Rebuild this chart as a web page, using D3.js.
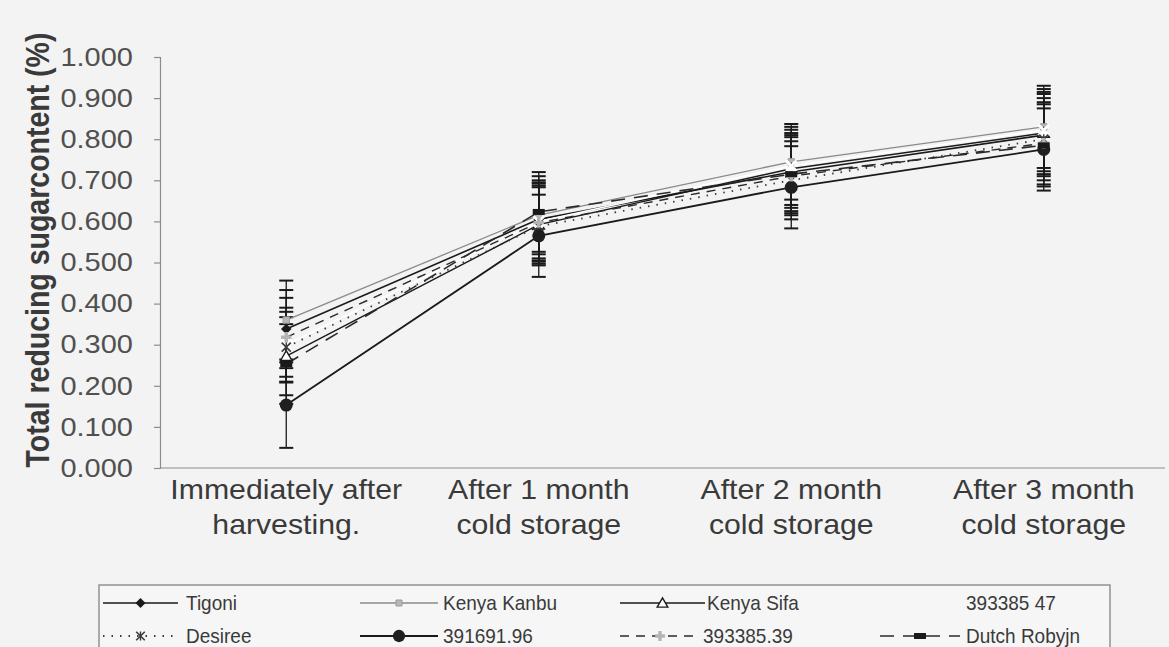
<!DOCTYPE html>
<html>
<head>
<meta charset="utf-8">
<script src="https://cdnjs.cloudflare.com/ajax/libs/d3/7.8.5/d3.min.js"></script>
<style>
  html, body { margin: 0; padding: 0; background: #f3f3f3; }
  svg { display: block; }
</style>
</head>
<body>
<svg id="chart" width="1169" height="647"></svg>
<script>
// Storage stages (x categories)
const stages = ["Immediately after|harvesting.", "After 1 month|cold storage", "After 2 month|cold storage", "After 3 month|cold storage"];
const yTicks = [0, 0.1, 0.2, 0.3, 0.4, 0.5, 0.6, 0.7, 0.8, 0.9, 1.0];

// Total reducing sugar content (%) per variety, with standard errors
const tigoni        = [0.338, 0.605, 0.720, 0.810];
const tigoniErr     = [0.095, 0.095, 0.095, 0.100];
const kenyaKanbu    = [0.360, 0.615, 0.745, 0.830];
const kenyaKanbuErr = [0.096, 0.095, 0.092, 0.100];
const kenyaSifa     = [0.272, 0.592, 0.728, 0.815];
const kenyaSifaErr  = [0.095, 0.095, 0.095, 0.100];
const v39338547     = [0.300, 0.600, 0.735, 0.822];
const v39338547Err  = [0.090, 0.095, 0.095, 0.100];
const desiree       = [0.294, 0.588, 0.700, 0.800];
const desireeErr    = [0.086, 0.095, 0.095, 0.100];
const v39169196     = [0.153, 0.565, 0.683, 0.775];
const v39169196Err  = [0.104, 0.100, 0.100, 0.100];
const v39338539     = [0.318, 0.597, 0.710, 0.790];
const v39338539Err  = [0.096, 0.095, 0.095, 0.100];
const dutchRobyjn   = [0.253, 0.623, 0.715, 0.785];
const dutchRobyjnErr= [0.097, 0.097, 0.095, 0.100];

const series = [
  { name: "Tigoni",       values: tigoni,      err: tigoniErr,      stroke: "#1a1a1a", width: 1.6, dash: null,      marker: "diamond",  fill: "#1a1a1a" },
  { name: "Kenya Kanbu",  values: kenyaKanbu,  err: kenyaKanbuErr,  stroke: "#8a8a8a", width: 1.3, dash: null,      marker: "kanbu",    fill: "#a0a0a0" },
  { name: "Kenya Sifa",   values: kenyaSifa,   err: kenyaSifaErr,   stroke: "#1a1a1a", width: 1.4, dash: null,      marker: "triangle", fill: "#ffffff" },
  { name: "393385 47",    values: v39338547,   err: v39338547Err,   stroke: "#ffffff", width: 1.6, dash: null,      marker: "xwhite",   fill: "#ffffff" },
  { name: "Desiree",      values: desiree,     err: desireeErr,     stroke: "#3a3a3a", width: 1.8, dash: "1.5,7",   marker: "asterisk", fill: "#3a3a3a" },
  { name: "391691.96",    values: v39169196,   err: v39169196Err,   stroke: "#1a1a1a", width: 1.8, dash: null,      marker: "circle",   fill: "#1a1a1a" },
  { name: "393385.39",    values: v39338539,   err: v39338539Err,   stroke: "#2a2a2a", width: 1.4, dash: "9,7",     marker: "plus",     fill: "#b0b0b0" },
  { name: "Dutch Robyjn", values: dutchRobyjn, err: dutchRobyjnErr, stroke: "#2a2a2a", width: 1.6, dash: "14,9",    marker: "rect",     fill: "#1a1a1a" }
];

const svg = d3.select("#chart");
const textSX = 1.16;            // glyphs in this chart are set slightly wide
const fontMain = "'Liberation Sans', Arial, Helvetica, sans-serif";

const x = d3.scalePoint().domain(d3.range(stages.length)).range([160, 1170]).padding(0.5);
const y = d3.scaleLinear().domain([0, 1]).range([468, 57]);

// horizontally scaled text helper
function label(parent, px, py, str, opt) {
  return parent.append("text")
    .attr("transform", `translate(${px},${py}) scale(${opt.sx || textSX},1)`)
    .attr("text-anchor", opt.anchor || "start")
    .attr("dominant-baseline", "central")
    .attr("font-family", fontMain)
    .attr("font-size", opt.size)
    .attr("font-weight", opt.weight || "normal")
    .attr("fill", opt.fill || "#4a4a4a")
    .text(str);
}

// Y axis
const yAxis = d3.axisLeft(y).tickValues(yTicks).tickSize(6).tickFormat("");
const yg = svg.append("g").attr("transform", "translate(160,0)").call(yAxis);
yg.select(".domain").attr("stroke", "#8c8c8c").attr("stroke-width", 1.2);
yg.selectAll(".tick line").attr("stroke", "#8c8c8c").attr("stroke-width", 1.2);
yTicks.forEach(t => label(svg, 133, y(t), d3.format(".3f")(t), { size: 25, anchor: "end", fill: "#505050" }));

// X axis
const xg = svg.append("g").attr("transform", "translate(0,468)")
  .call(d3.axisBottom(x).tickSize(0).tickFormat(""));
xg.select(".domain").attr("stroke", "#8c8c8c").attr("stroke-width", 1.2).attr("d", "M160,0H1165");
stages.forEach((s, i) => {
  const parts = s.split("|");
  label(svg, x(i), 489, parts[0], { size: 28, sx: 1.08, anchor: "middle", fill: "#3a3a3a" });
  label(svg, x(i), 524, parts[1], { size: 28, sx: 1.08, anchor: "middle", fill: "#3a3a3a" });
});

// Y axis title
svg.append("text")
  .attr("transform", "translate(38,250) rotate(-90) scale(1,1.16)")
  .attr("text-anchor", "middle")
  .attr("dominant-baseline", "central")
  .attr("font-family", fontMain)
  .attr("font-weight", "bold")
  .attr("font-size", 28.5)
  .attr("fill", "#3a3a3a")
  .text("Total reducing sugarcontent (%)");

// marker drawing
function drawMarker(g, type, cx, cy, s) {
  const k = s || 1;
  switch (type) {
    case "diamond":
      g.append("path").attr("d", d3.symbol(d3.symbolDiamond2, 70 * k)()).attr("transform", `translate(${cx},${cy})`)
        .attr("fill", "#1a1a1a"); break;
    case "kanbu":
      g.append("path").attr("d", d3.symbol(d3.symbolSquare, 40 * k)()).attr("transform", `translate(${cx},${cy})`)
        .attr("fill", "#b8b8b8").attr("stroke", "#9a9a9a").attr("stroke-width", 1); break;
    case "triangle":
      g.append("path").attr("d", d3.symbol(d3.symbolTriangle, 55 * k)()).attr("transform", `translate(${cx},${cy + 1})`)
        .attr("fill", "#ffffff").attr("stroke", "#1a1a1a").attr("stroke-width", 1.4); break;
    case "xwhite":
      g.append("path").attr("d", d3.symbol(d3.symbolX, 70 * k)()).attr("transform", `translate(${cx},${cy})`)
        .attr("fill", "none").attr("stroke", "#ffffff").attr("stroke-width", 3); break;
    case "asterisk":
      g.append("path").attr("d", d3.symbol(d3.symbolX, 55 * k)()).attr("transform", `translate(${cx},${cy})`)
        .attr("fill", "none").attr("stroke", "#3a3a3a").attr("stroke-width", 1.6);
      g.append("line").attr("x1", cx).attr("x2", cx).attr("y1", cy - 5 * k).attr("y2", cy + 5 * k)
        .attr("stroke", "#3a3a3a").attr("stroke-width", 1.4); break;
    case "circle":
      g.append("circle").attr("cx", cx).attr("cy", cy).attr("r", 6.5 * Math.sqrt(k)).attr("fill", "#1f1f1f"); break;
    case "plus":
      g.append("path").attr("d", d3.symbol(d3.symbolCross, 60 * k)()).attr("transform", `translate(${cx},${cy})`)
        .attr("fill", "#b4b4b4"); break;
    case "rect":
      g.append("rect").attr("x", cx - 6).attr("y", cy - 3).attr("width", 12).attr("height", 6).attr("fill", "#1a1a1a"); break;
  }
}

// error bars
const eg = svg.append("g");
series.forEach(s => {
  s.values.forEach((v, i) => {
    const cx = x(i), top = y(v + s.err[i]), bot = y(v - s.err[i]);
    eg.append("line").attr("x1", cx).attr("x2", cx).attr("y1", top).attr("y2", bot)
      .attr("stroke", "#1a1a1a").attr("stroke-width", 1.3);
    [top, bot].forEach(yy => eg.append("line").attr("x1", cx - 7).attr("x2", cx + 7).attr("y1", yy).attr("y2", yy)
      .attr("stroke", "#1a1a1a").attr("stroke-width", 2));
  });
});

// series lines
const line = d3.line().x((d, i) => x(i)).y(d => y(d));
const lg = svg.append("g");
series.forEach(s => {
  lg.append("path").datum(s.values).attr("d", line)
    .attr("fill", "none").attr("stroke", s.stroke).attr("stroke-width", s.width)
    .attr("stroke-dasharray", s.dash);
});
// markers
const mg = svg.append("g");
series.forEach(s => s.values.forEach((v, i) => drawMarker(mg, s.marker, x(i), y(v))));

// legend
const leg = svg.append("g");
leg.append("rect").attr("x", 99).attr("y", 585).attr("width", 1011).attr("height", 80)
  .attr("fill", "#f6f6f6").attr("stroke", "#7a7a7a").attr("stroke-width", 1.2);

const legendSlots = [
  { s: 0, x0: 103, x1: 178, tx: 186, row: 0 },
  { s: 1, x0: 360, x1: 438, tx: 443, row: 0 },
  { s: 2, x0: 620, x1: 705, tx: 707, row: 0 },
  { s: 3, x0: 880, x1: 960, tx: 966, row: 0 },
  { s: 4, x0: 103, x1: 178, tx: 186, row: 1 },
  { s: 5, x0: 360, x1: 438, tx: 443, row: 1 },
  { s: 6, x0: 620, x1: 700, tx: 703, row: 1 },
  { s: 7, x0: 880, x1: 960, tx: 966, row: 1 }
];
const rowY = [603, 636];
legendSlots.forEach(slot => {
  const s = series[slot.s];
  const yy = rowY[slot.row];
  if (s.stroke !== "#ffffff") {
    leg.append("line").attr("x1", slot.x0).attr("x2", slot.x1).attr("y1", yy).attr("y2", yy)
      .attr("stroke", s.stroke).attr("stroke-width", s.width)
      .attr("stroke-dasharray", s.dash);
    drawMarker(leg, s.marker, (slot.x0 + slot.x1) / 2, yy, 0.9);
  }
  label(leg, slot.tx, yy, s.name, { size: 20, sx: 0.95, fill: "#3a3a3a" });
});
</script>
</body>
</html>
